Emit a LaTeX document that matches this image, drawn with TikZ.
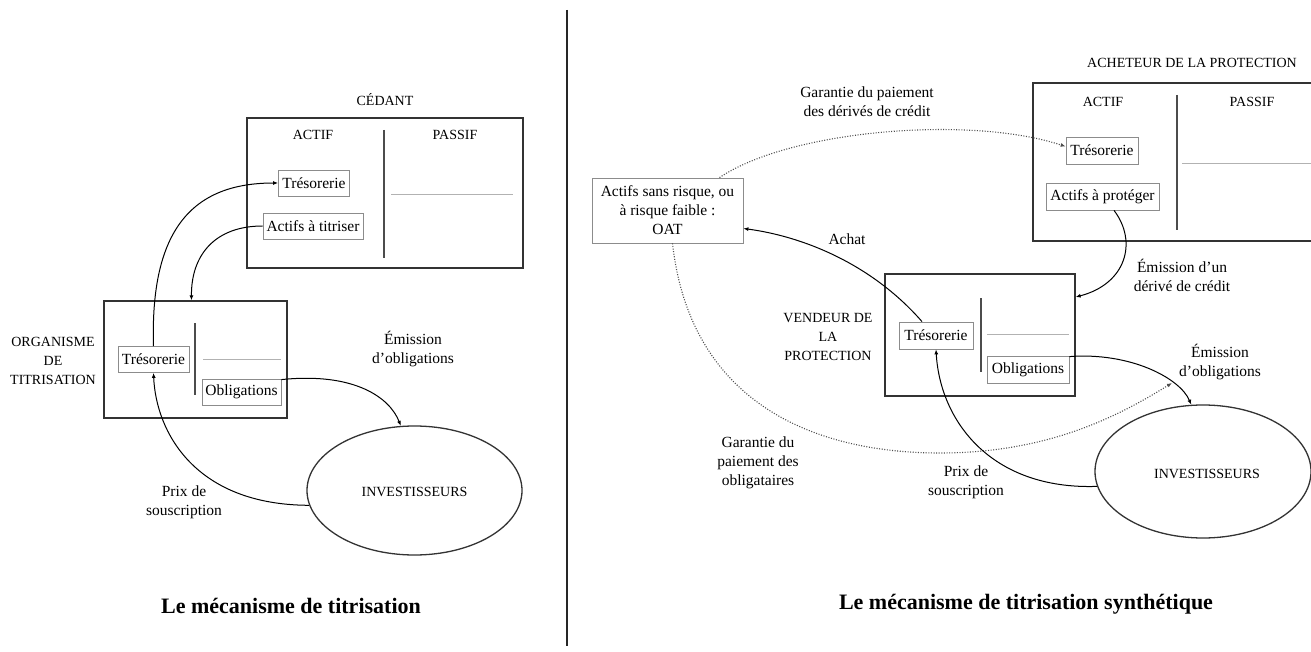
\documentclass[tikz,border=0pt]{standalone}
\usepackage{fontspec}
\setmainfont{Liberation Serif}
\usetikzlibrary{arrows.meta,shapes.geometric,calc}
\newcommand\lblfont{\fontsize{15.5}{19}\selectfont}
\newcommand\capfont{\fontsize{14}{19}\selectfont}
\newcommand\ttlfont{\fontsize{22}{26}\selectfont\bfseries}
\begin{document}
\begin{tikzpicture}[x=1pt,y=-1pt,
  frame/.style={draw=black!80, line width=1.3pt, inner sep=0pt},
  itembox/.style={draw=black!45, line width=0.8pt, inner sep=0pt, font=\lblfont, minimum height=26pt},
  divider/.style={draw=black!70, line width=1.8pt},
  thinline/.style={draw=black!30, line width=0.8pt},
  flow/.style={draw=black, line width=1pt, -{Latex[length=5pt,width=4pt]}},
  guar/.style={draw=black!70, line width=1.1pt, dash pattern=on 1pt off 1.6pt, -{Latex[length=5pt,width=4pt]}},
  lbl/.style={font=\lblfont, align=center, inner sep=0pt},
  caplbl/.style={font=\capfont, align=center, inner sep=0pt},
  ttl/.style={font=\ttlfont, inner sep=0pt},
  oval/.style={ellipse, draw=black!80, line width=1.3pt, inner sep=0pt}
]
\useasboundingbox (0,0) rectangle (1311,652);
\fill[white] (0,0) rectangle (1311,652);

% separator
\coordinate (sepT) at (567,10);
\coordinate (sepB) at (567,646);
\draw[black!85, line width=2pt] (sepT) -- (sepB);

% ================= LEFT =================
\node[caplbl] (cedantL) at (385,100) {CÉDANT};
\node[frame, minimum width=276pt, minimum height=150pt] (cedant) at (385,193) {};
\node[caplbl] (actifC) at (313,135) {ACTIF};
\node[caplbl] (passifC) at (455,135) {PASSIF};
\coordinate (dC1) at (384,130); \coordinate (dC2) at (384,258);
\draw[divider] (dC1) -- (dC2);
\coordinate (gC1) at (391,194); \coordinate (gC2) at (513,194);
\draw[thinline] (gC1) -- (gC2);
\node[itembox, minimum width=71pt] (tresC) at (314,183) {Trésorerie};
\node[itembox, minimum width=100pt] (actT) at (313,226) {Actifs à titriser};

\node[frame, minimum width=183pt, minimum height=117pt] (org) at (195.5,359.5) {};
\coordinate (dO1) at (195,323); \coordinate (dO2) at (195,395);
\draw[divider] (dO1) -- (dO2);
\coordinate (gO1) at (203,359); \coordinate (gO2) at (281,359);
\draw[thinline] (gO1) -- (gO2);
\node[itembox, minimum width=71pt] (tresO) at (153.5,359.5) {Trésorerie};
\node[itembox, minimum width=79pt] (oblO) at (241.5,392) {Obligations};
\node[caplbl] (orgL) at (53,361) {ORGANISME\\DE\\TITRISATION};

\node[oval, minimum width=215pt, minimum height=129pt] (invL) at (414.5,490.5) {};
\node[caplbl] (invLt) at (414.5,492) {INVESTISSEURS};

\node[lbl] (emL) at (413,349.5) {Émission\\d’obligations};
\node[lbl] (prixL) at (184,502.5) {Prix de\\souscription};
\node[ttl] (ttlL) at (291,606) {Le mécanisme de titrisation};

\draw[flow] (tresO.north) .. controls (150,230) and (192,183) .. (tresC.west);
\draw[flow] (actT.west) .. controls (215,226) and (191,255) .. ([xshift=-4pt]org.north);
\draw[flow] ([yshift=-1pt]oblO.north east) .. controls (355,372) and (390,398) .. (invL.102);
\draw[flow] (invL.188) .. controls (195,505) and (156,432) .. (tresO.south);

% ================= RIGHT =================
\node[caplbl] (achL) at (1192,63) {ACHETEUR DE LA PROTECTION};
\node[frame, minimum width=290pt, minimum height=158pt] (ach) at (1178,162) {};
\node[caplbl] (actifA) at (1103,102) {ACTIF};
\node[caplbl] (passifA) at (1252,102) {PASSIF};
\coordinate (dA1) at (1177,95); \coordinate (dA2) at (1177,230);
\draw[divider] (dA1) -- (dA2);
\coordinate (gA1) at (1182,163); \coordinate (gA2) at (1311,163);
\draw[thinline] (gA1) -- (gA2);
\node[itembox, minimum width=72pt, minimum height=27pt] (tresA) at (1102,150.5) {Trésorerie};
\node[itembox, minimum width=113pt, minimum height=27pt] (actP) at (1102.5,196.5) {Actifs à protéger};

\node[frame, minimum width=190pt, minimum height=122pt] (vend) at (980,335) {};
\coordinate (dV1) at (981,298); \coordinate (dV2) at (981,372);
\draw[divider] (dV1) -- (dV2);
\coordinate (gV1) at (987,334); \coordinate (gV2) at (1069,334);
\draw[thinline] (gV1) -- (gV2);
\node[itembox, minimum width=74pt, minimum height=27pt] (tresV) at (936,335.5) {Trésorerie};
\node[itembox, minimum width=82pt, minimum height=27pt] (oblV) at (1028,369.5) {Obligations};
\node[caplbl] (vendL) at (828,337) {VENDEUR DE\\LA\\PROTECTION};

\node[frame, lbl, draw=black!45, line width=0.8pt, minimum width=151pt, minimum height=65pt] (oat) at (667.5,210.5) {Actifs sans risque, ou\\à risque faible :\\OAT};

\node[oval, minimum width=216pt, minimum height=133pt] (invR) at (1203,471.5) {};
\node[caplbl] (invRt) at (1207,474) {INVESTISSEURS};

\node[lbl] (garD) at (867,101.5) {Garantie du paiement\\des dérivés de crédit};
\node[lbl] (achat) at (847,239) {Achat};
\node[lbl] (emD) at (1182,275.5) {Émission d’un\\dérivé de crédit};
\node[lbl] (emR) at (1220,362.5) {Émission\\d’obligations};
\node[lbl] (prixR) at (966,482.5) {Prix de\\souscription};
\node[lbl] (garO) at (758,462.5) {Garantie du\\paiement des\\obligataires};
\node[ttl] (ttlR) at (1026,604) {Le mécanisme de titrisation synthétique};

\coordinate (gEnd) at (1172,383);
\draw[guar] ([xshift=52pt]oat.north) .. controls (790,130) and (970,115) .. ([yshift=4pt]tresA.west);
\draw[guar] ([xshift=5pt]oat.south) .. controls (690,400) and (810,453) .. (940,453) .. controls (1050,453) and (1120,415) .. (gEnd);
\draw[flow] ([xshift=-14pt]tresV.north) .. controls (870,262) and (800,236) .. ([yshift=-18pt]oat.east);
\draw[flow] ([xshift=11.5pt]actP.south) .. controls (1138,242) and (1126,284) .. ([yshift=38pt]vend.east);
\draw[flow] ([yshift=-1pt]oblV.north east) .. controls (1130,352) and (1180,378) .. (invR.100);
\draw[flow] (invR.188) .. controls (990,490) and (940,420) .. (tresV.south);
\end{tikzpicture}
\end{document}
